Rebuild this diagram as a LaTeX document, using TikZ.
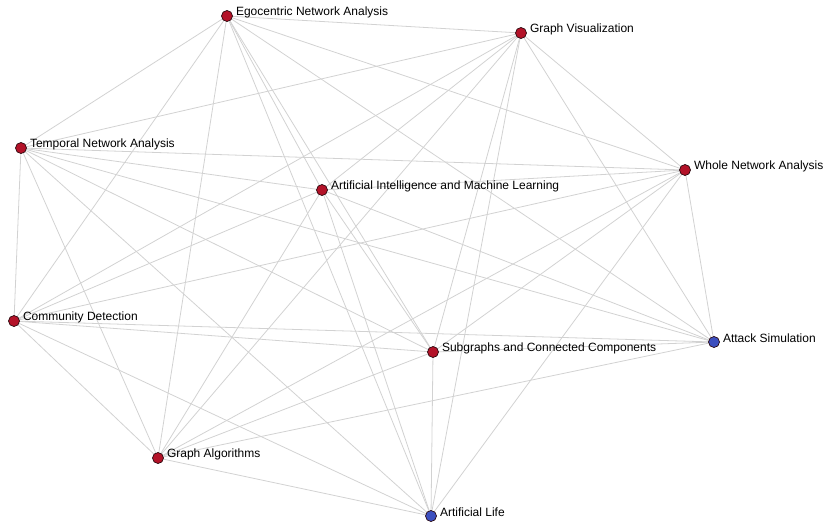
\documentclass[tikz,border=0pt]{standalone}
\usepackage{fontspec}
\setmainfont{Liberation Sans}
\usetikzlibrary{backgrounds}
\definecolor{nred}{HTML}{B31228}
\definecolor{nblue}{HTML}{3C4FBF}
\definecolor{nedge}{HTML}{2A0A10}
\definecolor{ecol}{HTML}{D2D2D2}
\tikzset{
  vtx/.style={circle, draw=nedge, line width=0.7pt, minimum size=11pt, inner sep=0pt},
  redv/.style={vtx, fill=nred},
  bluev/.style={vtx, fill=nblue},
  lbl/.style={anchor=west, inner sep=0pt, font=\fontsize{12}{14}\selectfont, yshift=4pt, xshift=3pt},
  link/.style={draw=ecol, line width=0.8pt}
}
\begin{document}
\begin{tikzpicture}[x=1pt,y=-1pt]
\useasboundingbox (0,0) rectangle (837,528);
\node[redv]  (ego) at (227,16)  {}; \node[lbl] (egot) at (ego.east) {Egocentric Network Analysis};
\node[redv]  (gv)  at (521,33)  {}; \node[lbl] (gvt) at (gv.east) {Graph Visualization};
\node[redv]  (tna) at (21,148)  {}; \node[lbl] (tnat) at (tna.east) {Temporal Network Analysis};
\node[redv]  (ai)  at (322,190) {}; \node[lbl] (ait) at (ai.east) {Artificial Intelligence and Machine Learning};
\node[redv]  (wna) at (685,170) {}; \node[lbl] (wnat) at (wna.east) {Whole Network Analysis};
\node[redv]  (cd)  at (14,321)  {}; \node[lbl] (cdt) at (cd.east) {Community Detection};
\node[redv]  (sub) at (433,352) {}; \node[lbl] (subt) at (sub.east) {Subgraphs and Connected Components};
\node[bluev] (att) at (714,342) {}; \node[lbl] (attt) at (att.east) {Attack Simulation};
\node[redv]  (ga)  at (158,458) {}; \node[lbl] (gat) at (ga.east) {Graph Algorithms};
\node[bluev] (al)  at (431,516) {}; \node[lbl] (alt) at (al.east) {Artificial Life};
\begin{pgfonlayer}{background}
\foreach \a/\b in {ego/gv,ego/tna,ego/ai,ego/wna,ego/cd,ego/sub,ego/att,ego/ga,ego/al,
  gv/tna,gv/ai,gv/wna,gv/cd,gv/sub,gv/att,gv/ga,gv/al,
  tna/ai,tna/wna,tna/cd,tna/sub,tna/att,tna/ga,tna/al,
  ai/wna,ai/cd,ai/sub,ai/att,ai/ga,ai/al,
  wna/cd,wna/sub,wna/att,wna/ga,wna/al,
  cd/sub,cd/att,cd/ga,cd/al,
  sub/att,sub/ga,sub/al,
  att/ga,
  ga/al}
  \draw[link] (\a.center) -- (\b.center);
\end{pgfonlayer}
\end{tikzpicture}
\end{document}
